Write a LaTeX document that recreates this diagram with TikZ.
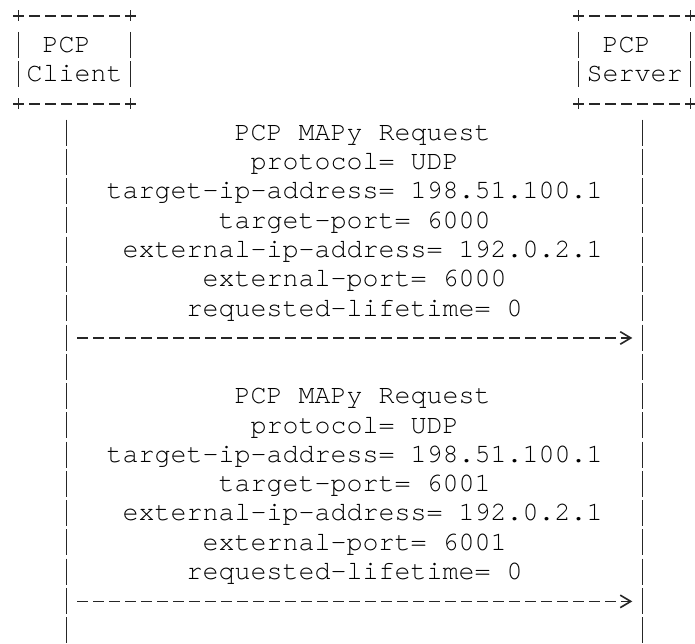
\documentclass[tikz,border=0pt]{standalone}
\usepackage{fontspec}
\newfontfamily\courfont{TeX Gyre Cursor}[WordSpace={1,0,0}]
\usetikzlibrary{arrows.meta}

\begin{document}
\begin{tikzpicture}[x=1pt,y=-1pt,
  % monospaced labels: 16pt per character cell, 29.27pt per text row
  txt/.style={font=\courfont\fontsize{26.667pt}{29.27pt}\selectfont,
    inner sep=0pt, outer sep=0pt, anchor=base west, text=black},
  actor/.style={minimum width=112pt, minimum height=87.82pt,
    inner sep=0pt, outer sep=0pt},
  stroke/.style={line width=1.6pt, draw=black!85},
  hedge/.style={stroke, dash pattern=on 10.5pt off 5.5pt},
  vedge/.style={stroke, dash pattern=on 11pt off 10.27pt on 26pt off 3.27pt
    on 26pt off 11.28pt on 11pt off 20pt},
  lifeline/.style={stroke, dash pattern=on 26pt off 3.27pt, shorten <=15.8pt},
  msg/.style={stroke, dash pattern=on 10.5pt off 5.5pt,
    shorten <=10.75pt, shorten >=10.2pt,
    -{Straight Barb[length=10.5pt,width=12.5pt]}}
]
\path[use as bounding box, fill=white] (0,0) rectangle (695,644);

% participant boxes
\node[actor] (cl) at (74.5,59.91) {};
\node[actor] (sv) at (634.5,59.91) {};

\foreach \b in {cl,sv}{
  \draw[hedge] ([xshift=-5.25pt]\b.north west) -- ([xshift=5.25pt]\b.north east);
  \draw[hedge] ([xshift=-5.25pt]\b.south west) -- ([xshift=5.25pt]\b.south east);
  \draw[vedge] ([yshift=5.5pt]\b.north west) -- ([yshift=-5.5pt]\b.south west);
  \draw[vedge] ([yshift=5.5pt]\b.north east) -- ([yshift=-5.5pt]\b.south east);
}

\node[txt] (clpcp)  at (42.5,52.6)  {PCP};
\node[txt] (clname) at (26.5,81.9)  {Client};
\node[txt] (svpcp)  at (602.5,52.6) {PCP};
\node[txt] (svname) at (586.5,81.9) {Server};

% lifelines
\coordinate (clend) at (66.5,644);
\coordinate (svend) at (642.5,644);
\draw[lifeline] ([xshift=-8pt]cl.south) -- (clend);
\draw[lifeline] ([xshift=8pt]sv.south) -- (svend);

% first request
\node[txt] (a1) at (234.5,140.4) {PCP MAPy Request};
\node[txt] (a2) at (250.5,169.7) {protocol= UDP};
\node[txt] (a3) at (106.5,198.9) {target-ip-address= 198.51.100.1};
\node[txt] (a4) at (218.5,228.2) {target-port= 6000};
\node[txt] (a5) at (122.5,257.5) {external-ip-address= 192.0.2.1};
\node[txt] (a6) at (202.5,286.7) {external-port= 6000};
\node[txt] (a7) at (186.5,316.0) {requested-lifetime= 0};
\coordinate (r1c) at (66.5,337.97);
\coordinate (r1s) at (642.5,337.97);
\draw[msg] (r1c) -- (r1s);

% second request
\node[txt] (b1) at (234.5,403.8) {PCP MAPy Request};
\node[txt] (b2) at (250.5,433.1) {protocol= UDP};
\node[txt] (b3) at (106.5,462.4) {target-ip-address= 198.51.100.1};
\node[txt] (b4) at (218.5,491.6) {target-port= 6001};
\node[txt] (b5) at (122.5,520.9) {external-ip-address= 192.0.2.1};
\node[txt] (b6) at (202.5,550.2) {external-port= 6001};
\node[txt] (b7) at (186.5,579.4) {requested-lifetime= 0};
\coordinate (r2c) at (66.5,601.4);
\coordinate (r2s) at (642.5,601.4);
\draw[msg] (r2c) -- (r2s);
\end{tikzpicture}
\end{document}
